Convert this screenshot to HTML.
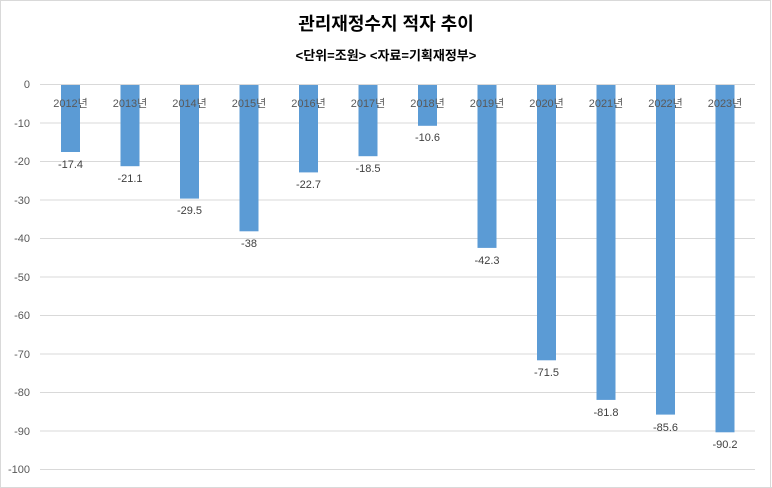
<!DOCTYPE html>
<html><head><meta charset="utf-8"><style>
body{margin:0;background:#fff;}
svg{display:block;font-family:"Liberation Sans","Noto Sans CJK KR",sans-serif;}
</style></head><body>
<svg width="772" height="488" viewBox="0 0 772 488">
<rect x="0.5" y="0.5" width="770" height="500" fill="#fff" stroke="#d9d9d9"/>
<text x="386" y="30" text-anchor="middle" font-size="18" font-weight="bold" fill="#000">관리재정수지 적자 추이</text>
<text x="386" y="60" text-anchor="middle" font-size="13" font-weight="bold" fill="#000">&lt;단위=조원&gt;  &lt;자료=기획재정부&gt;</text>
<g stroke="#d9d9d9" stroke-width="1">
<line x1="40" x2="755" y1="84.5" y2="84.5"/><line x1="40" x2="755" y1="123" y2="123"/><line x1="40" x2="755" y1="161.5" y2="161.5"/><line x1="40" x2="755" y1="200" y2="200"/><line x1="40" x2="755" y1="238.5" y2="238.5"/><line x1="40" x2="755" y1="277" y2="277"/><line x1="40" x2="755" y1="315.5" y2="315.5"/><line x1="40" x2="755" y1="354" y2="354"/><line x1="40" x2="755" y1="392.5" y2="392.5"/><line x1="40" x2="755" y1="431" y2="431"/><line x1="40" x2="755" y1="469.5" y2="469.5"/>
</g>
<g font-size="11" fill="#595959" text-anchor="end">
<text x="30" y="88">0</text><text x="30" y="127">-10</text><text x="30" y="165">-20</text><text x="30" y="204">-30</text><text x="30" y="242">-40</text><text x="30" y="281">-50</text><text x="30" y="319">-60</text><text x="30" y="358">-70</text><text x="30" y="396">-80</text><text x="30" y="435">-90</text><text x="30" y="473">-100</text>
</g>
<g fill="#5b9bd5">
<rect x="61" y="85" width="19" height="67"/>
<rect x="120.5" y="85" width="19" height="81.2"/>
<rect x="180" y="85" width="19" height="113.6"/>
<rect x="239.5" y="85" width="19" height="146.3"/>
<rect x="299" y="85" width="19" height="87.4"/>
<rect x="358.5" y="85" width="19" height="71.2"/>
<rect x="418" y="85" width="19" height="40.8"/>
<rect x="477.5" y="85" width="19" height="162.9"/>
<rect x="537" y="85" width="19" height="275.3"/>
<rect x="596.5" y="85" width="19" height="314.9"/>
<rect x="656" y="85" width="19" height="329.6"/>
<rect x="715.5" y="85" width="19" height="347.3"/>
</g>
<g font-size="11" fill="#595959" text-anchor="middle">
<text x="70.5" y="107">2012년</text><text x="130" y="107">2013년</text><text x="189.5" y="107">2014년</text><text x="249" y="107">2015년</text><text x="308.5" y="107">2016년</text><text x="368" y="107">2017년</text><text x="427.5" y="107">2018년</text><text x="487" y="107">2019년</text><text x="546.5" y="107">2020년</text><text x="606" y="107">2021년</text><text x="665.5" y="107">2022년</text><text x="725" y="107">2023년</text>
</g>
<g font-size="11" fill="#404040" text-anchor="middle">
<text x="70.5" y="168">-17.4</text><text x="130" y="182">-21.1</text><text x="189.5" y="214">-29.5</text><text x="249" y="247">-38</text><text x="308.5" y="188">-22.7</text><text x="368" y="172">-18.5</text><text x="427.5" y="141">-10.6</text><text x="487" y="264">-42.3</text><text x="546.5" y="376">-71.5</text><text x="606" y="416">-81.8</text><text x="665.5" y="431">-85.6</text><text x="725" y="448">-90.2</text>
</g>
<line x1="0" x2="772" y1="487.5" y2="487.5" stroke="#d9d9d9"/>
</svg>
</body></html>
